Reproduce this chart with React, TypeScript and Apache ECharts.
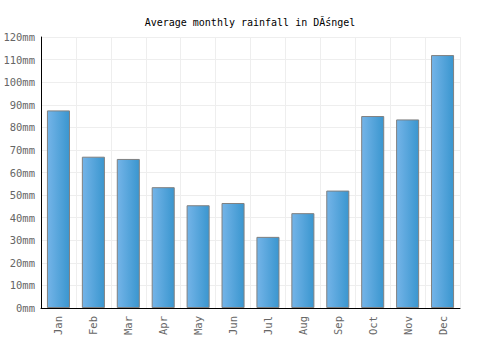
import React, { useEffect, useRef } from "react";
import * as echarts from "echarts";

const months = ["Jan", "Feb", "Mar", "Apr", "May", "Jun", "Jul", "Aug", "Sep", "Oct", "Nov", "Dec"];
const rainfall = [87.5, 67, 66, 53.5, 45.5, 46.5, 31.5, 42, 52, 85, 83.5, 112];
const titleText = "Average monthly rainfall in DĂśngel";

export default function App() {
  const ref = useRef<HTMLDivElement>(null);
  useEffect(() => {
    document.body.style.margin = "0";
    const chart = echarts.init(ref.current!, null, { renderer: "svg" });
    const font = "'DejaVu Sans Mono', monospace";
    chart.setOption({
      animation: false,
      title: {
        text: titleText,
        left: "center",
        top: 12,
        textStyle: { fontFamily: font, fontSize: 10, fontWeight: "normal", color: "#000" },
      },
      grid: { left: 41, right: 40, top: 37, bottom: 42 },
      xAxis: {
        type: "category",
        data: months,
        axisLine: { lineStyle: { color: "#000", width: 1 } },
        axisTick: { show: false },
        axisLabel: { rotate: 90, color: "#666", fontFamily: font, fontSize: 10.5, margin: 8 },
        splitLine: { show: true, lineStyle: { color: "#eeeeee" } },
      },
      yAxis: {
        type: "value",
        min: 0,
        max: 120,
        interval: 10,
        axisLine: { show: true, lineStyle: { color: "#000", width: 1 } },
        axisTick: { show: false },
        axisLabel: { color: "#666", fontFamily: font, fontSize: 10.5, formatter: "{value}mm", margin: 6 },
        splitLine: { show: true, lineStyle: { color: "#eeeeee" } },
      },
      series: [
        {
          type: "bar",
          data: rainfall,
          barCategoryGap: "34%",
          itemStyle: {
            color: new echarts.graphic.LinearGradient(0, 0, 1, 0, [
              { offset: 0, color: "#74b4e8" },
              { offset: 1, color: "#3a96cf" },
            ]),
            borderColor: "#808080",
            borderWidth: 1,
          },
        },
      ],
    });
    return () => chart.dispose();
  }, []);
  return <div ref={ref} style={{ width: 500, height: 350 }} />;
}
